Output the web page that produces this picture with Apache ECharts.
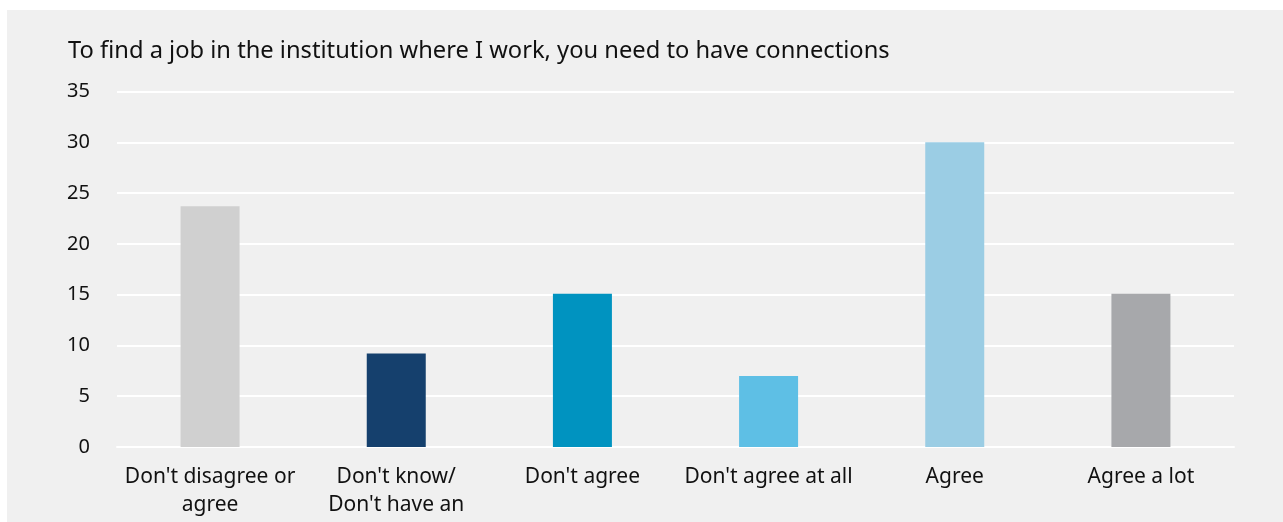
<!DOCTYPE html>
<html><head><meta charset="utf-8">
<script src="https://cdn.jsdelivr.net/npm/echarts@6/dist/echarts.min.js"></script>
<style>
html,body{margin:0;padding:0;background:#ffffff;width:1283px;height:522px;overflow:hidden;}
#c{position:absolute;left:7px;top:10px;width:1276px;height:512px;background:#f0f0f0;}
</style></head>
<body><div id="c"></div>
<script>
const titleText = "To find a job in the institution where I work, you need to have connections";
const categories = ["Don't disagree or\nagree", "Don't know/\nDon't have an\nopinion", "Don't agree", "Don't agree at all", "Agree", "Agree a lot"];
const values = [23.7, 9.2, 15.1, 7.0, 30.0, 15.1];
const barColors = ["#d0d0d0", "#15406d", "#0093c0", "#5ebfe5", "#9bcde4", "#a7a8ab"];
const yTicks = [0, 5, 10, 15, 20, 25, 30, 35];

const chart = echarts.init(document.getElementById('c'), null, {renderer: 'canvas'});
const font = "'Noto Sans', sans-serif";
chart.setOption({
  animation: false,
  backgroundColor: '#f0f0f0',
  title: {
    text: titleText, left: 61, top: 27, padding: 0,
    textStyle: {fontFamily: font, fontSize: 23.7, lineHeight: 28, fontWeight: 'normal', color: '#111111'}
  },
  grid: {left: 110, right: 49, top: 81.5, bottom: 75, containLabel: false, outerBoundsMode: 'none'},
  xAxis: {
    type: 'category', data: categories,
    axisLine: {show: true, lineStyle: {color: '#ffffff', width: 2}},
    axisTick: {show: false},
    axisLabel: {interval: 0, margin: 16, fontFamily: font, fontSize: 21, color: '#111111', lineHeight: 28}
  },
  yAxis: {
    type: 'value', min: yTicks[0], max: yTicks[yTicks.length - 1], interval: 5,
    axisLine: {show: false}, axisTick: {show: false},
    splitLine: {show: true, lineStyle: {color: '#ffffff', width: 2}},
    axisLabel: {margin: 27, fontFamily: font, fontSize: 20, color: '#111111'}
  },
  series: [{
    type: 'bar', barWidth: 59,
    data: values.map((v, i) => ({value: v, itemStyle: {color: barColors[i]}}))
  }]
});
</script></body></html>
